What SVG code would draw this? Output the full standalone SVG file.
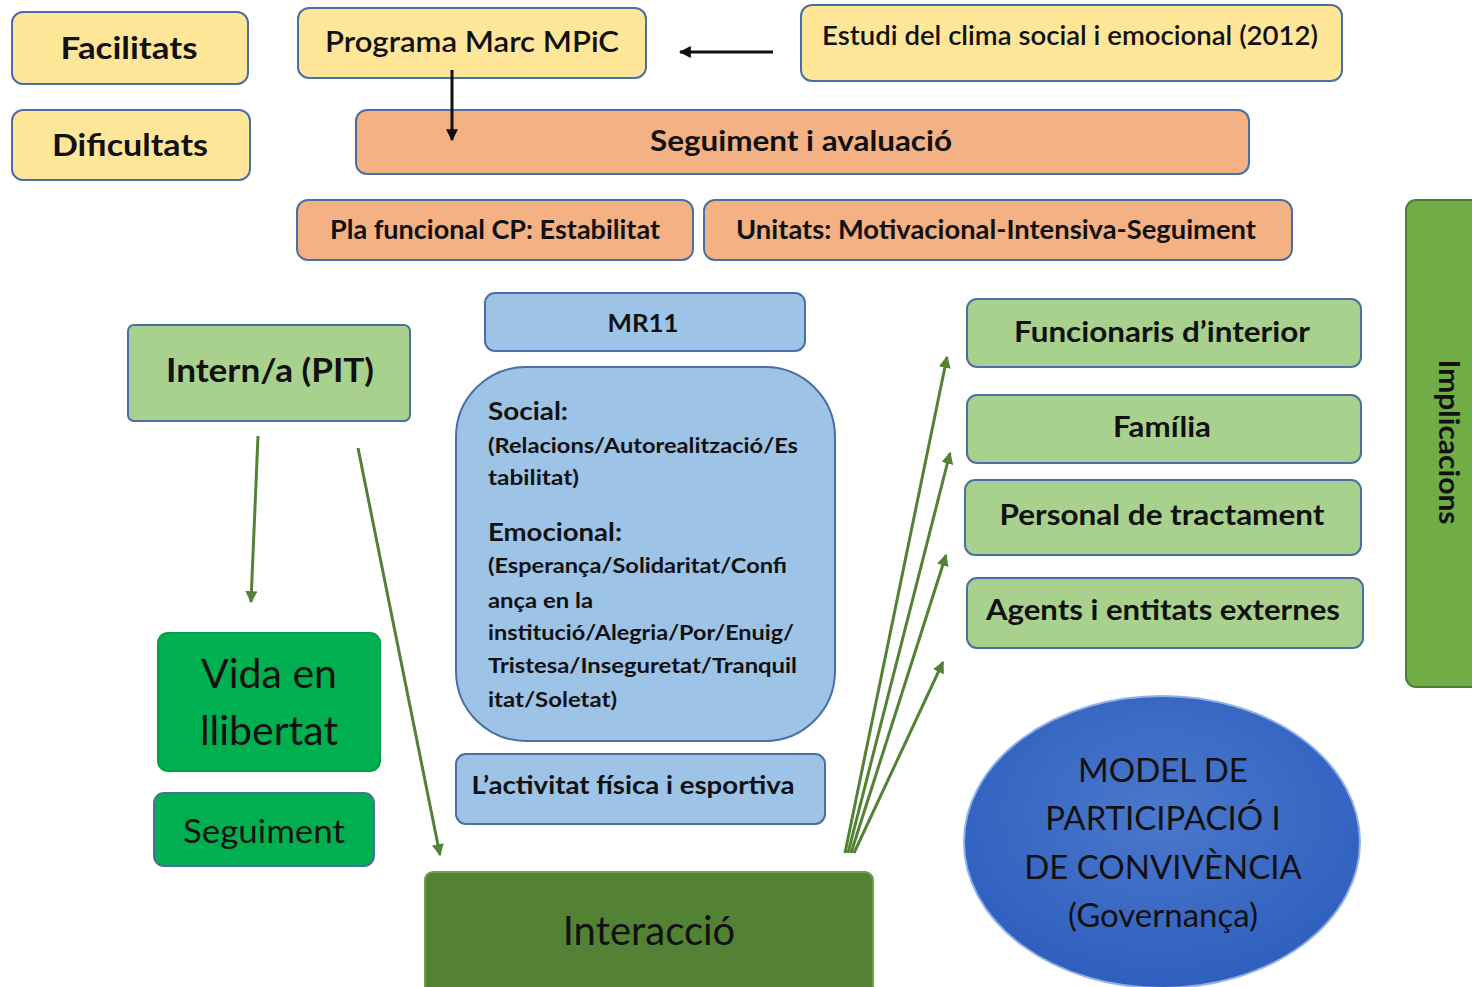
<svg xmlns="http://www.w3.org/2000/svg" width="1472" height="987" viewBox="0 0 1472 987">
<style>
.t{font-family:Lato,"Open Sans","Liberation Sans",sans-serif;fill:#111;text-anchor:middle}
.b{font-weight:bold}
.bx{stroke:#4A6FA5;stroke-width:2}
.y{fill:#FFE699}
.o{fill:#F4B183}
.lb{fill:#9DC3E6}
.lg{fill:#A9D18E}
.g{fill:#00B050}
.k{stroke:#111;stroke-width:3;fill:none}
.gl{stroke:#548235;stroke-width:3;fill:none}
</style>
<defs>
<marker id="ak" viewBox="0 0 10 10" refX="9" refY="5" markerWidth="4" markerHeight="4" orient="auto"><path d="M0,0L10,5L0,10z" fill="#111"/></marker>
<marker id="ag" viewBox="0 0 10 10" refX="9" refY="5" markerWidth="4" markerHeight="4" orient="auto"><path d="M0,0L10,5L0,10z" fill="#548235"/></marker>
<radialGradient id="eg" cx="0.5" cy="0.4" r="0.6"><stop offset="0" stop-color="#4A78CC"/><stop offset="1" stop-color="#2F5FBE"/></radialGradient>
</defs>
<rect width="1472" height="987" fill="#fff"/>
<g id="facilitats"><rect class="bx y" x="12" y="12" width="236" height="72" rx="11"/><text class="t b" x="129" y="59" font-size="31" textLength="137" lengthAdjust="spacingAndGlyphs">Facilitats</text></g>
<g id="dificultats"><rect class="bx y" x="12" y="110" width="238" height="70" rx="11"/><text class="t b" x="130" y="156" font-size="31" textLength="156" lengthAdjust="spacingAndGlyphs">Dificultats</text></g>
<g id="programa"><rect class="bx y" x="298" y="8" width="348" height="70" rx="11"/><text class="t" x="472" y="52" font-size="29" font-weight="600" textLength="294" lengthAdjust="spacingAndGlyphs">Programa Marc MPiC</text></g>
<g id="estudi"><rect class="bx y" x="801" y="5" width="541" height="76" rx="11"/><text class="t" x="1070" y="45" font-size="27" font-weight="600" textLength="496" lengthAdjust="spacingAndGlyphs">Estudi del clima social i emocional (2012)</text></g>
<g id="seguiment-avaluacio"><rect class="bx o" x="356" y="110" width="893" height="64" rx="11"/><text class="t b" x="801" y="151" font-size="29" textLength="302" lengthAdjust="spacingAndGlyphs">Seguiment i avaluació</text></g>
<g id="pla"><rect class="bx o" x="297" y="200" width="396" height="60" rx="11"/><text class="t b" x="495" y="239" font-size="26" textLength="330" lengthAdjust="spacingAndGlyphs">Pla funcional CP: Estabilitat</text></g>
<g id="unitats"><rect class="bx o" x="704" y="200" width="588" height="60" rx="11"/><text class="t b" x="996" y="239" font-size="26" textLength="520" lengthAdjust="spacingAndGlyphs">Unitats: Motivacional-Intensiva-Seguiment</text></g>
<g id="implicacions"><rect x="1406" y="200" width="80" height="487" rx="10" fill="#70AD47" stroke="#507E32" stroke-width="2"/><text class="t b" transform="translate(1439,442) rotate(90)" font-size="29" textLength="165" lengthAdjust="spacingAndGlyphs">Implicacions</text></g>
<g id="mr11"><rect class="bx lb" x="485" y="293" width="320" height="58" rx="10"/><text class="t b" x="643" y="332" font-size="24" textLength="71" lengthAdjust="spacingAndGlyphs">MR11</text></g>
<g id="mr11-detall"><rect class="bx lb" x="456" y="367" width="379" height="374" rx="70"/>
<g class="t b" style="text-anchor:start">
<text x="488" y="420" font-size="25" textLength="80" lengthAdjust="spacingAndGlyphs">Social:</text>
<text x="488" y="453" font-size="21" textLength="310" lengthAdjust="spacingAndGlyphs">(Relacions/Autorealització/Es</text>
<text x="488" y="485" font-size="21" textLength="91" lengthAdjust="spacingAndGlyphs">tabilitat)</text>
<text x="488" y="541" font-size="25" textLength="134" lengthAdjust="spacingAndGlyphs">Emocional:</text>
<text x="488" y="573" font-size="21" textLength="299" lengthAdjust="spacingAndGlyphs">(Esperança/Solidaritat/Confi</text>
<text x="488" y="608" font-size="21" textLength="105" lengthAdjust="spacingAndGlyphs">ança en la</text>
<text x="488" y="640" font-size="21" textLength="306" lengthAdjust="spacingAndGlyphs">institució/Alegria/Por/Enuig/</text>
<text x="488" y="673" font-size="21" textLength="309" lengthAdjust="spacingAndGlyphs">Tristesa/Inseguretat/Tranquil</text>
<text x="488" y="707" font-size="21" textLength="129" lengthAdjust="spacingAndGlyphs">itat/Soletat)</text>
</g></g>
<g id="activitat"><rect class="bx lb" x="456" y="754" width="369" height="70" rx="10"/><text class="t b" x="633" y="794" font-size="25" textLength="323" lengthAdjust="spacingAndGlyphs">L’activitat física i esportiva</text></g>
<g id="intern"><rect class="bx lg" x="128" y="325" width="282" height="96" rx="6"/><text class="t b" x="270" y="382" font-size="32" textLength="208" lengthAdjust="spacingAndGlyphs">Intern/a (PIT)</text></g>
<g id="vida"><rect class="g" x="158" y="633" width="222" height="138" rx="10" stroke="#00A048" stroke-width="2"/><text class="t" x="269" y="688" font-size="41">Vida en</text><text class="t" x="269" y="745" font-size="41">llibertat</text></g>
<g id="seguiment"><rect class="bx g" x="154" y="793" width="220" height="73" rx="10"/><text class="t" x="264" y="843" font-size="33" textLength="162" lengthAdjust="spacingAndGlyphs">Seguiment</text></g>
<g id="interaccio"><rect x="425" y="872" width="448" height="125" rx="8" fill="#548235" stroke="#6F9E45" stroke-width="2"/><text class="t" x="649" y="945" font-size="40">Interacció</text></g>
<g id="funcionaris"><rect class="bx lg" x="967" y="299" width="394" height="68" rx="10"/><text class="t b" x="1162" y="342" font-size="29" textLength="296" lengthAdjust="spacingAndGlyphs">Funcionaris d’interior</text></g>
<g id="familia"><rect class="bx lg" x="967" y="395" width="394" height="68" rx="10"/><text class="t b" x="1162" y="437" font-size="29" textLength="98" lengthAdjust="spacingAndGlyphs">Família</text></g>
<g id="personal"><rect class="bx lg" x="965" y="480" width="396" height="75" rx="10"/><text class="t b" x="1162" y="525" font-size="29" textLength="325" lengthAdjust="spacingAndGlyphs">Personal de tractament</text></g>
<g id="agents"><rect class="bx lg" x="967" y="578" width="396" height="70" rx="10"/><text class="t b" x="1163" y="620" font-size="29" textLength="354" lengthAdjust="spacingAndGlyphs">Agents i entitats externes</text></g>
<g id="model"><ellipse cx="1162" cy="842" rx="198" ry="146" fill="url(#eg)" stroke="#8FB0E8" stroke-width="2"/>
<text class="t" x="1163" y="782" font-size="33">MODEL DE</text>
<text class="t" x="1163" y="830" font-size="33">PARTICIPACIÓ I</text>
<text class="t" x="1163" y="879" font-size="33">DE CONVIVÈNCIA</text>
<text class="t" x="1163" y="927" font-size="33">(Governança)</text></g>
<g id="connectors">
<line class="k" x1="773" y1="52" x2="680" y2="52" marker-end="url(#ak)"/>
<line class="k" x1="452" y1="70" x2="452" y2="140" marker-end="url(#ak)"/>
<line class="gl" x1="258" y1="436" x2="251" y2="602" marker-end="url(#ag)"/>
<line class="gl" x1="358" y1="448" x2="440" y2="855" marker-end="url(#ag)"/>
<line class="gl" x1="845" y1="853" x2="947" y2="357" marker-end="url(#ag)"/>
<line class="gl" x1="848" y1="853" x2="950" y2="453" marker-end="url(#ag)"/>
<line class="gl" x1="851" y1="853" x2="946" y2="555" marker-end="url(#ag)"/>
<line class="gl" x1="854" y1="853" x2="943" y2="662" marker-end="url(#ag)"/>
</g>
</svg>
